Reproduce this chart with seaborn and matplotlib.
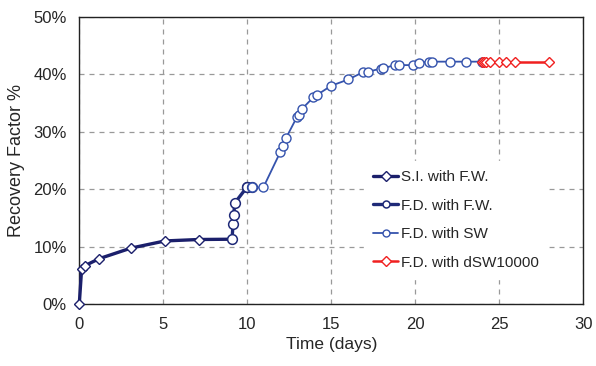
import matplotlib
matplotlib.use("Agg")
import matplotlib.pyplot as plt
import seaborn as sns
import pandas as pd
from matplotlib.ticker import PercentFormatter

# Set seaborn style
sns.set_style("whitegrid")
plt.rcParams['font.family'] = ['Liberation Sans', 'DejaVu Sans']

# S.I. with F.W.
si_fw_days = [0.0, 0.14, 0.34, 1.17, 3.07, 5.1, 7.1, 9.09]
si_fw_rf = [0.0, 6.1, 6.7, 7.9, 9.75, 11.0, 11.25, 11.3]

# F.D. with F.W.
fd_fw_days = [9.09, 9.15, 9.19, 9.25, 9.96, 10.0, 10.26]
fd_fw_rf = [11.3, 14.0, 15.5, 17.6, 20.3, 20.3, 20.3]

# F.D. with SW
fd_sw_days = [10.26, 10.95, 11.95, 12.1, 12.3, 12.94, 13.1, 13.26, 13.93, 14.17,
              14.98, 16.01, 16.87, 17.2, 17.94, 18.06, 18.79, 19.03, 19.88, 20.24,
              20.83, 21.0, 22.05, 23.0, 23.95]
fd_sw_rf = [20.3, 20.3, 26.4, 27.5, 28.9, 32.5, 32.9, 34.0, 36.0, 36.45,
            38.0, 39.1, 40.35, 40.45, 41.0, 41.05, 41.6, 41.6, 41.6, 42.0,
            42.2, 42.2, 42.2, 42.2, 42.2]

# F.D. with dSW10000
fd_dsw_days = [23.95, 24.09, 24.2, 24.45, 24.95, 25.4, 25.9, 27.96]
fd_dsw_rf = [42.2, 42.2, 42.2, 42.2, 42.2, 42.2, 42.2, 42.2]

series = [
    ('S.I. with F.W.', si_fw_days, si_fw_rf, '#1b1f6b', 2.4, 'D', 5.5, 1.0),
    ('F.D. with F.W.', fd_fw_days, fd_fw_rf, '#1f2a78', 2.4, 'o', 7, 1.1),
    ('F.D. with SW', fd_sw_days, fd_sw_rf, '#3553ad', 1.3, 'o', 6.5, 1.0),
    ('F.D. with dSW10000', fd_dsw_days, fd_dsw_rf, '#f02020', 1.8, 'D', 5.5, 1.0),
]

fig = plt.figure(figsize=(5.96, 3.66), dpi=100)
ax = fig.add_axes([0.133, 0.169, 0.846, 0.785])

for name, days, rf, color, lw, marker, ms, mew in series:
    df = pd.DataFrame({'Time': days, 'RF': rf})
    sns.lineplot(data=df, x='Time', y='RF', ax=ax, sort=False, estimator=None,
                 color=color, linewidth=lw, marker=marker, markersize=ms,
                 markerfacecolor='white', markeredgecolor=color, markeredgewidth=mew,
                 label=name, clip_on=False, zorder=3)

ax.set_xlim(0, 30)
ax.set_ylim(0, 50)
ax.set_xticks(range(0, 31, 5))
ax.set_yticks(range(0, 51, 10))
ax.yaxis.set_major_formatter(PercentFormatter(decimals=0))
ax.grid(True, color='#999999', linestyle=(0, (4, 4)), linewidth=0.9)
for s in ax.spines.values():
    s.set_color('#222222')
    s.set_linewidth(1.0)
ax.tick_params(axis='both', which='major', labelsize=12, length=5, width=0.8,
               color='#999999', direction='out', pad=4)
ax.set_xlabel('Time (days)', fontsize=12.5, labelpad=4)
ax.set_ylabel('Recovery Factor %', fontsize=13, labelpad=6)

leg = ax.legend(loc='upper left', bbox_to_anchor=(0.55, 0.525), frameon=True,
                fontsize=11, handlelength=1.6, handletextpad=0.2,
                labelspacing=0.95, borderpad=0.6)
leg.get_frame().set_edgecolor('white')
leg.get_frame().set_facecolor('white')
leg.get_frame().set_alpha(1.0)
leg.get_frame().set_boxstyle('square', pad=0)
for h in leg.legend_handles:
    h.set_markersize(5)

fig.savefig('out.png', dpi=100)
